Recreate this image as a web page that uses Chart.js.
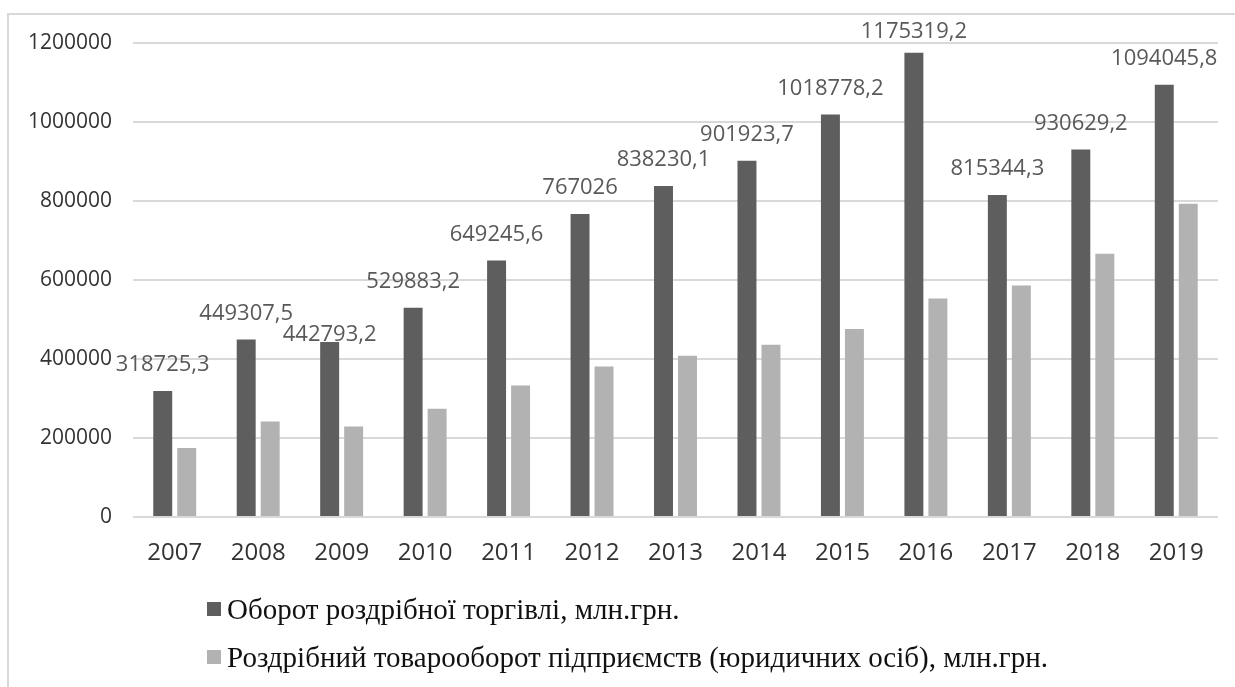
<!DOCTYPE html>
<html>
<head>
<meta charset="utf-8">
<title>Оборот роздрібної торгівлі</title>
<script src="https://cdn.jsdelivr.net/npm/chart.js@4.4.0/dist/chart.umd.min.js"></script>
<style>
  html, body { margin: 0; padding: 0; background: #fff; }
  #wrap { position: relative; width: 1235px; height: 687px; overflow: hidden; }
  #frame { position: absolute; left: 7px; top: 13px; width: 1300px; height: 760px;
           border: 2px solid #d9d9d9; box-sizing: border-box; }
  #chart { position: absolute; left: 0; top: 0; }
  #legend { position: absolute; left: 207px; top: 592px;
            font-family: "Liberation Serif", "Times New Roman", serif; font-size: 29px; color: #111; }
  .item { position: relative; height: 48px; line-height: 34px; padding-left: 20px; white-space: nowrap; }
  .box { position: absolute; left: 0; top: 10px; width: 14px; height: 14px; }
</style>
</head>
<body>
<div id="wrap">
  <div id="frame"></div>
  <canvas id="chart" width="1235" height="687"></canvas>
  <div id="legend"></div>
</div>
<script>
var years = ['2007', '2008', '2009', '2010', '2011', '2012', '2013',
             '2014', '2015', '2016', '2017', '2018', '2019'];

// Оборот роздрібної торгівлі, млн.грн. (values from the data labels)
var retailTurnover = [318725.3, 449307.5, 442793.2, 529883.2, 649245.6, 767026, 838230.1,
                      901923.7, 1018778.2, 1175319.2, 815344.3, 930629.2, 1094045.8];

// Роздрібний товарооборот підприємств (юридичних осіб), млн.грн.
var enterpriseTurnover = [175000, 242000, 229400, 274200, 333200, 381300, 408400,
                          436200, 476000, 553400, 586300, 666600, 793200];

var seriesNames = ['Оборот роздрібної торгівлі, млн.грн.',
                   'Роздрібний товарооборот підприємств (юридичних осіб), млн.грн.'];

var yTicks = [0, 200000, 400000, 600000, 800000, 1000000, 1200000];

function formatValue(v) {
    return String(v).replace('.', ',');
}

// labels above the dark bars, the way the spreadsheet placed them
var valueLabels = {
    id: 'valueLabels',
    afterDatasetsDraw: function(chart, args, opts) {
        var ctx = chart.ctx;
        var meta = chart.getDatasetMeta(0);
        ctx.save();
        ctx.font = opts.font;
        ctx.fillStyle = opts.color;
        ctx.textAlign = 'center';
        ctx.textBaseline = 'middle';
        meta.data.forEach(function(bar, i) {
            var lift = opts.liftFor[i] !== undefined ? opts.liftFor[i] : opts.lift;
            ctx.fillText(formatValue(chart.data.datasets[0].data[i]), bar.x, bar.y - lift);
        });
        ctx.restore();
    }
};

var tickFont = '"Open Sans", "Liberation Sans", sans-serif';

var config = {
    type: 'bar',
    data: {
        labels: years,
        datasets: [{
            label: seriesNames[0],
            data: retailTurnover,
            backgroundColor: '#5e5e5e',
            categoryPercentage: 0.575,
            barPercentage: 0.79
        }, {
            label: seriesNames[1],
            data: enterpriseTurnover,
            backgroundColor: '#b2b2b2',
            categoryPercentage: 0.575,
            barPercentage: 0.79
        }]
    },
    options: {
        responsive: false,
        animation: false,
        layout: {
            padding: { top: 43, right: 17, bottom: 110, left: 0 }
        },
        plugins: {
            legend: { display: false },
            tooltip: { enabled: false },
            valueLabels: {
                font: '22px "Open Sans", "Liberation Sans", sans-serif',
                color: '#595959',
                lift: 26,
                liftFor: { 2: 7, 9: 21 }
            }
        },
        scales: {
            x: {
                grid: { display: false },
                border: { display: false },
                ticks: {
                    font: { family: tickFont, size: 24 },
                    color: '#333333',
                    padding: 14
                },
                afterFit: function(scale) { scale.height = 60; }
            },
            y: {
                min: 0,
                max: 1200000,
                afterBuildTicks: function(scale) {
                    scale.ticks = yTicks.map(function(v) { return { value: v }; });
                },
                grid: { color: '#d9d9d9', lineWidth: 2, drawTicks: false },
                border: { display: false },
                ticks: {
                    font: { family: tickFont, size: 21 },
                    color: '#333333',
                    padding: 21,
                    callback: function(v) { return String(v); }
                },
                afterFit: function(scale) { scale.width = 133; }
            }
        }
    },
    plugins: [valueLabels]
};

var myChart = new Chart(document.getElementById('chart'), config);

// legend under the chart, one series per row
var legend = document.getElementById('legend');
myChart.data.datasets.forEach(function(ds) {
    var row = document.createElement('div');
    row.className = 'item';
    var box = document.createElement('span');
    box.className = 'box';
    box.style.background = ds.backgroundColor;
    row.appendChild(box);
    row.appendChild(document.createTextNode(ds.label));
    legend.appendChild(row);
});
</script>
</body>
</html>
